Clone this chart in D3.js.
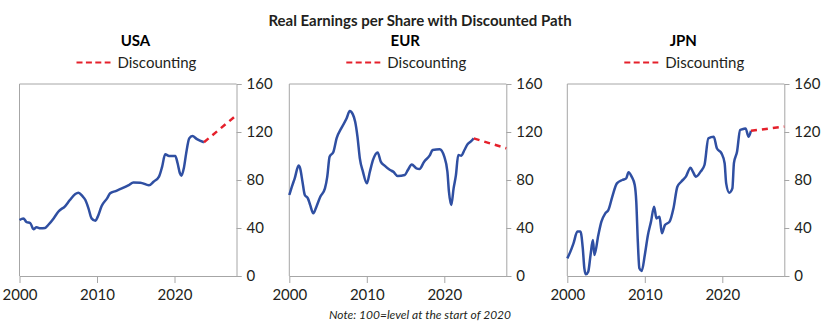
<!DOCTYPE html>
<html>
<head>
<meta charset="utf-8">
<script src="https://cdn.jsdelivr.net/npm/d3@7"></script>
<style>
  html, body { margin: 0; padding: 0; background: #fff; }
  svg { display: block; font-family: Lato, "Open Sans", sans-serif; }
</style>
</head>
<body>
<svg id="chart" width="840" height="333"></svg>
<script>
// ---- Data ----
const chartTitle = "Real Earnings per Share with Discounted Path";
const noteText = "Note: 100=level at the start of 2020";
const legendLabel = "Discounting";
const regions = ["USA", "EUR", "JPN"];
const xTicks = [2000, 2010, 2020];
const yTicks = [0, 40, 80, 120, 160];

const usaHistory = [
  [2000.0,46.7],[2000.5,48],[2000.9,45],[2001.4,44],[2001.8,39],[2002.2,40.6],[2002.7,39.7],
  [2003.3,40],[2003.7,42.5],[2004.4,48],[2005.0,53.6],[2005.9,58.3],[2006.5,63.3],[2007.2,68.3],
  [2007.6,69.4],[2008.1,66.7],[2008.5,63.3],[2008.9,56.4],[2009.3,48],[2009.8,46],[2010.1,49.5],
  [2010.6,58.3],[2011.3,64.7],[2011.7,68.9],[2012.4,70.8],[2013.2,73],[2014.1,75.8],[2014.7,78],
  [2015.6,77.8],[2016.7,75.6],[2017.3,78.6],[2018.0,82.8],[2018.4,91],[2018.8,101.4],[2019.3,100],
  [2020.1,100],[2020.4,94],[2020.7,85.6],[2020.9,83.6],[2021.2,89.7],[2021.5,102],[2021.9,114.7],
  [2022.3,116.7],[2022.9,114],[2023.8,111.5]
];
const usaDiscount = [[2023.8,111.5],[2028,134]];

const eurHistory = [
  [2000.0,67.5],[2000.4,75.8],[2000.7,81.4],[2001.2,92],[2001.4,89.7],[2001.7,78.6],[2002.0,67.5],
  [2002.4,64.7],[2002.7,59],[2003.1,52.2],[2003.5,57.8],[2004.0,66],[2004.6,73],[2004.9,82.8],
  [2005.2,99.4],[2005.7,103.6],[2006.1,114.7],[2006.7,123],[2007.4,131.4],[2007.8,137.5],
  [2008.2,134.7],[2008.5,128.6],[2008.8,116],[2009.1,98],[2009.5,87],[2010.0,77.2],[2010.4,87],
  [2010.8,96.7],[2011.4,103],[2011.8,95.3],[2012.3,92],[2013.0,88.3],[2013.4,87],[2014.0,83.3],
  [2014.9,84.2],[2015.3,88.3],[2015.8,93],[2016.4,89.7],[2016.8,89.2],[2017.4,95.3],[2018.1,100.3],
  [2018.5,105],[2019.4,105.6],[2020.0,99.4],[2020.4,87],[2020.6,70.3],[2020.9,59.2],[2021.2,73],
  [2021.5,84],[2021.8,100.8],[2022.2,100.3],[2022.6,105],[2023.0,109.7],[2023.4,112],[2023.8,114.7]
];
const eurDiscount = [[2023.8,114.7],[2028,106.4]];

const jpnHistory = [
  [2000.0,14.7],[2000.4,20.3],[2000.8,27.2],[2001.3,37],[2001.7,37],[2002.0,23],[2002.2,6.4],
  [2002.4,1.4],[2002.7,3.6],[2003.0,17.5],[2003.3,30],[2003.5,17.5],[2004.0,34],[2004.4,45.3],
  [2004.9,52.2],[2005.3,55],[2005.8,66],[2006.4,77.2],[2007.1,80],[2007.6,81.4],[2007.9,86.4],
  [2008.3,82.8],[2008.7,75.8],[2008.9,62],[2009.1,28.6],[2009.3,6.4],[2009.6,4.2],[2010.0,17.5],
  [2010.4,34],[2010.8,45.3],[2011.2,57.8],[2011.5,48],[2011.9,49.4],[2012.2,35.6],[2012.6,42.5],
  [2013.2,45.3],[2013.7,56.4],[2014.2,74.4],[2014.7,78.6],[2015.3,82.8],[2015.9,90.3],[2016.2,87],
  [2016.6,82.8],[2017.2,87],[2017.7,92.5],[2018.2,114.7],[2018.9,116],[2019.3,106.4],[2019.9,102.2],
  [2020.3,94],[2020.5,77.2],[2020.9,69.4],[2021.3,73],[2021.5,94],[2021.9,103.6],[2022.3,121.7],
  [2022.7,122.5],[2023.0,123],[2023.4,116],[2023.7,121]
];
const jpnDiscount = [[2023.7,121],[2028,124.5]];

// ---- Layout ----
const panels = [
  { name: regions[0], left: 19.5,  hist: usaHistory, disc: usaDiscount },
  { name: regions[1], left: 289.3, hist: eurHistory, disc: eurDiscount },
  { name: regions[2], left: 567.3, hist: jpnHistory, disc: jpnDiscount }
];
const panelW = 217, plotTop = 84, plotBottom = 276;
const blue = "#2f4fa2", red = "#e5202b", frame = "#a6a6a6", ink = "#231f20";

const svg = d3.select("#chart");

svg.append("text")
  .attr("x", 420).attr("y", 26)
  .attr("text-anchor", "middle")
  .attr("font-size", 15).attr("font-weight", 700).attr("fill", ink)
  .text(chartTitle);

svg.append("text")
  .attr("x", 420).attr("y", 319)
  .attr("text-anchor", "middle")
  .attr("font-size", 12).attr("font-style", "italic").attr("fill", ink)
  .text(noteText);

panels.forEach(p => {
  const x = d3.scaleLinear().domain([2000, 2028]).range([p.left, p.left + panelW]);
  const y = d3.scaleLinear().domain([0, 160]).range([plotBottom, plotTop]);
  const g = svg.append("g");
  const cx = p.left + 116;

  g.append("text")
    .attr("x", cx).attr("y", 46)
    .attr("text-anchor", "middle")
    .attr("font-size", 15).attr("font-weight", 700).attr("fill", "#000")
    .text(p.name);

  // legend
  g.append("line")
    .attr("x1", cx - 59).attr("x2", cx - 25)
    .attr("y1", 62.5).attr("y2", 62.5)
    .attr("stroke", red).attr("stroke-width", 2)
    .attr("stroke-dasharray", "6,3.4");
  g.append("text")
    .attr("x", cx - 18).attr("y", 68)
    .attr("font-size", 15).attr("fill", ink)
    .text(legendLabel);

  // frame (top and left)
  g.append("path")
    .attr("d", `M${p.left},${plotBottom}V${plotTop}H${p.left + panelW}`)
    .attr("fill", "none").attr("stroke", frame).attr("stroke-width", 1);

  // right axis
  const ya = g.append("g")
    .attr("transform", `translate(${p.left + panelW},0)`)
    .call(d3.axisRight(y).tickValues(yTicks).tickSize(5).tickPadding(5).tickFormat(d3.format("d")));
  ya.select(".domain").attr("stroke", frame);
  ya.selectAll(".tick line").attr("stroke", frame);
  ya.selectAll(".tick text").attr("font-size", 15).attr("fill", ink)
    .attr("font-family", "Lato, sans-serif");

  // bottom axis
  const xa = g.append("g")
    .attr("transform", `translate(0,${plotBottom})`)
    .call(d3.axisBottom(x).tickValues(xTicks).tickSize(7).tickPadding(6).tickSizeOuter(0).tickFormat(d3.format("d")));
  xa.select(".domain").attr("stroke", frame);
  xa.selectAll(".tick line").attr("stroke", frame);
  xa.selectAll(".tick text").attr("font-size", 15).attr("fill", ink)
    .attr("font-family", "Lato, sans-serif");

  const line = d3.line().x(d => x(d[0])).y(d => y(d[1])).curve(d3.curveMonotoneX);

  g.append("path")
    .attr("d", line(p.hist))
    .attr("fill", "none").attr("stroke", blue).attr("stroke-width", 2.5)
    .attr("stroke-linejoin", "round");

  g.append("path")
    .attr("d", line(p.disc))
    .attr("fill", "none").attr("stroke", red).attr("stroke-width", 2.5)
    .attr("stroke-dasharray", "6,5");
});
</script>
</body>
</html>
